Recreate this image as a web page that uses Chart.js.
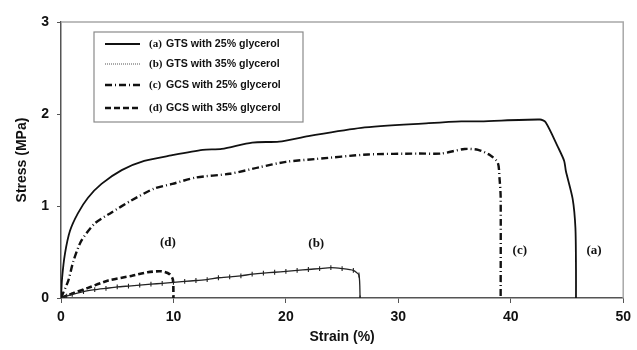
<!DOCTYPE html>
<html>
<head>
<meta charset="utf-8">
<script src="https://cdn.jsdelivr.net/npm/chart.js@4/dist/chart.umd.min.js"></script>
<style>
html,body{margin:0;padding:0;background:#fff;}
#wrap{width:637px;height:350px;position:relative;}
</style>
</head>
<body>
<div id="wrap"><canvas id="c" width="637" height="350"></canvas></div>
<script>
// ---- data (strain %, stress MPa) ----
const seriesNames = ["GTS with 25% glycerol","GTS with 35% glycerol","GCS with 25% glycerol","GCS with 35% glycerol"];
const seriesTags = ["(a)","(b)","(c)","(d)"];
const strainA = [0,0.1,0.35,0.8,1.5,2.4,3.6,5.4,7.4,9.8,12.6,14.3,17.0,19.4,22.0,26.7,32.7,35.6,37.3,42.6,43.1,44.2,44.75,44.9,45.5,45.75,45.8,45.8];
const stressA = [0,0.22,0.48,0.73,0.92,1.09,1.24,1.39,1.49,1.55,1.61,1.62,1.69,1.70,1.76,1.85,1.90,1.92,1.92,1.94,1.91,1.64,1.49,1.38,1.08,0.76,0.30,0];
const strainB = [0,0.5,1,2,3,4,5,6,7,8,9,10,11,12,13,14,15,16,17,18,19,20,21,22,23,24,25,26,26.5,26.6];
const stressB = [0,0.02,0.04,0.07,0.09,0.105,0.12,0.13,0.14,0.15,0.16,0.17,0.18,0.19,0.20,0.22,0.23,0.24,0.26,0.27,0.28,0.29,0.30,0.31,0.32,0.33,0.32,0.30,0.25,0];
const strainC = [0,0.65,1.1,1.8,3.0,4.5,6.25,8.3,9.9,12.0,15.0,17.6,20.0,22.6,27.3,31.8,33.8,35.9,37.1,38.2,38.85,39.0,39.1,39.1];
const stressC = [0,0.19,0.40,0.62,0.81,0.93,1.06,1.19,1.24,1.31,1.35,1.42,1.48,1.51,1.56,1.57,1.57,1.62,1.61,1.55,1.47,1.30,1.10,0];
const strainD = [0,1.24,2.4,4.2,6.25,7.7,8.9,9.65,9.95,10.0];
const stressD = [0,0.06,0.11,0.19,0.24,0.28,0.29,0.26,0.20,0];
const xTicks = [0,10,20,30,40,50];
const yTicks = [0,1,2,3];
// curve tag label positions (strain, stress)
const tagPos = [[47.4,0.52],[22.7,0.59],[40.8,0.52],[9.5,0.6]];

const pts = (xs, ys) => xs.map((x,i)=>({x:x,y:ys[i]}));

const styles = [
  {borderColor:'#111', borderWidth:1.8, borderDash:[]},
  {borderColor:'#222', borderWidth:1.3, borderDash:[]},
  {borderColor:'#111', borderWidth:2.4, borderDash:[7,3,1,3]},
  {borderColor:'#111', borderWidth:2.6, borderDash:[6,3]}
];

const datasets = [
  {label:seriesNames[0], data:pts(strainA,stressA), ...styles[0], pointRadius:0, tension:0.25},
  {label:seriesNames[1], data:pts(strainB,stressB), ...styles[1], pointRadius:2.4, pointStyle:'line', rotation:90, pointBorderColor:'#222', pointBorderWidth:1.1, tension:0.2},
  {label:seriesNames[2], data:pts(strainC,stressC), ...styles[2], pointRadius:0, tension:0.25},
  {label:seriesNames[3], data:pts(strainD,stressD), ...styles[3], pointRadius:0, tension:0.25}
];

const overlay = {
  id:'overlay',
  afterDatasetsDraw(chart){
    const ctx = chart.ctx, xs = chart.scales.x, ys = chart.scales.y, ca = chart.chartArea;
    ctx.save();
    // gray top & right border of plot area
    ctx.strokeStyle = '#a8a8a8'; ctx.lineWidth = 1.5;
    ctx.beginPath();
    ctx.moveTo(ca.left, ca.top); ctx.lineTo(ca.right, ca.top); ctx.lineTo(ca.right, ca.bottom);
    ctx.stroke();
    // curve tags
    ctx.fillStyle = '#111';
    ctx.font = "bold 13px 'Liberation Serif', 'Times New Roman', serif";
    ctx.textAlign = 'center'; ctx.textBaseline = 'middle';
    tagPos.forEach((p,i)=>{
      ctx.fillText(seriesTags[i], xs.getPixelForValue(p[0]), ys.getPixelForValue(p[1]));
    });
    // legend box
    const bx = 94, by = 32, bw = 209, bh = 90;
    ctx.fillStyle = '#fff';
    ctx.fillRect(bx, by, bw, bh);
    ctx.strokeStyle = '#8a8a8a'; ctx.lineWidth = 1.2;
    ctx.strokeRect(bx, by, bw, bh);
    const rowsY = [44, 64, 85, 108];
    const sansFont = "bold 10.6px 'Liberation Sans', Arial, sans-serif";
    const serifFont = "bold 11px 'Liberation Serif', 'Times New Roman', serif";
    rowsY.forEach((yy,i)=>{
      const s = styles[i];
      ctx.beginPath();
      ctx.strokeStyle = s.borderColor;
      ctx.lineWidth = s.borderWidth;
      if (i === 1) { ctx.setLineDash([1,1]); ctx.lineWidth = 1; ctx.strokeStyle = '#555'; } else ctx.setLineDash(s.borderDash);
      ctx.moveTo(105, yy); ctx.lineTo(140, yy);
      ctx.stroke();
      ctx.setLineDash([]);
      ctx.fillStyle = '#111';
      ctx.textAlign = 'left'; ctx.textBaseline = 'middle';
      ctx.font = serifFont;
      ctx.fillText(seriesTags[i], 149, yy);
      ctx.font = sansFont;
      ctx.fillText(seriesNames[i], 166, yy);
    });
    ctx.restore();
  }
};

new Chart(document.getElementById('c'), {
  type:'line',
  data:{datasets:datasets},
  options:{
    responsive:false,
    animation:false,
    layout:{padding:{top:22,right:11,left:0,bottom:0}},
    plugins:{legend:{display:false}, tooltip:{enabled:false}},
    scales:{
      x:{
        type:'linear', min:0, max:50,
        afterBuildTicks(s){ s.ticks = xTicks.map(v=>({value:v})); },
        afterFit(s){ s.height = 52; },
        grid:{drawOnChartArea:false, drawTicks:true, tickLength:5, color:'#555'},
        border:{color:'#555', width:1.5},
        ticks:{color:'#111', padding:6, font:{family:"'Liberation Sans', Arial, sans-serif", size:14, weight:'bold'}, maxRotation:0},
        title:{display:true, text:'Strain (%)', color:'#111', padding:{top:0,bottom:4}, font:{family:"'Liberation Sans', Arial, sans-serif", size:14, weight:'bold'}}
      },
      y:{
        type:'linear', min:0, max:3,
        afterBuildTicks(s){ s.ticks = yTicks.map(v=>({value:v})); },
        afterFit(s){ s.width = 61; },
        grid:{drawOnChartArea:false, drawTicks:true, tickLength:4, color:'#555'},
        border:{color:'#555', width:1.5},
        ticks:{color:'#111', padding:8, font:{family:"'Liberation Sans', Arial, sans-serif", size:14, weight:'bold'}},
        title:{display:true, text:'Stress (MPa)', color:'#111', padding:{top:14,bottom:0}, font:{family:"'Liberation Sans', Arial, sans-serif", size:14, weight:'bold'}}
      }
    }
  },
  plugins:[overlay]
});
</script>
</body>
</html>
